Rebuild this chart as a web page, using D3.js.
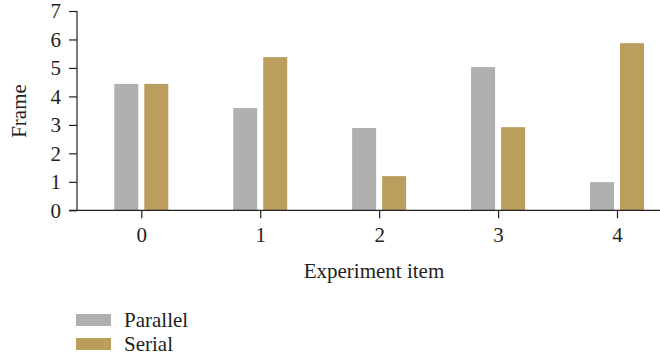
<!DOCTYPE html>
<html><head><meta charset="utf-8">
<script src="https://cdn.jsdelivr.net/npm/d3@7/dist/d3.min.js"></script>
<style>body{margin:0;background:#fff}svg text{font-family:"Liberation Serif","DejaVu Serif",serif;fill:#231f20}</style>
</head><body><svg id="c" width="660" height="357"></svg>
<script>
const categories = [0, 1, 2, 3, 4];
const seriesNames = ["Parallel", "Serial"];
const parallel = [4.44, 3.59, 2.89, 5.03, 0.99];
const serial = [4.44, 5.38, 1.20, 2.92, 5.87];
const yTicks = [0, 1, 2, 3, 4, 5, 6, 7];
const colors = ["#b0b0b0", "#bb9e5e"];

const svg = d3.select("#c");
const x = d3.scaleLinear().domain([0, 4]).range([141.3, 617]);
const y = d3.scaleLinear().domain([0, 7]).range([210.3, 11]);
const barW = 24, gap = 6;
const axisColor = "#231f20";
const fs = "21px";

// bars
const series = [parallel, serial];
series.forEach((vals, s) => {
  svg.append("g").selectAll("rect").data(vals).join("rect")
    .attr("x", (d, i) => s === 0 ? x(categories[i]) - gap/2 - barW : x(categories[i]) + gap/2)
    .attr("y", d => y(d))
    .attr("width", barW)
    .attr("height", d => y(0) - y(d))
    .attr("fill", colors[s]);
});

// y axis
const ya = svg.append("g").attr("transform", "translate(77,0)")
  .call(d3.axisLeft(y).tickValues(yTicks).tickFormat(d3.format("d")).tickSize(8).tickSizeOuter(0).tickPadding(8));
ya.selectAll("path,line").attr("stroke", axisColor).attr("stroke-width", 1.2);
ya.selectAll("text").style("font-size", fs).attr("fill", axisColor);
ya.select(".domain").remove();
svg.append("line").attr("x1", 77).attr("x2", 77).attr("y1", y(7)).attr("y2", y(0))
  .attr("stroke", axisColor).attr("stroke-width", 1.2);

// x axis
const xa = svg.append("g").attr("transform", `translate(0,${y(0)})`)
  .call(d3.axisBottom(x).tickValues(categories).tickFormat(d3.format("d")).tickSize(8).tickSizeOuter(0).tickPadding(9));
xa.select(".domain").remove();
xa.selectAll("line").attr("stroke", axisColor).attr("stroke-width", 1.2);
xa.selectAll("text").style("font-size", fs).attr("fill", axisColor);
svg.append("line").attr("x1", 69).attr("x2", 660).attr("y1", y(0)).attr("y2", y(0))
  .attr("stroke", axisColor).attr("stroke-width", 1.2);

// axis titles
svg.append("text").attr("x", 374).attr("y", 278).attr("text-anchor", "middle")
  .style("font-size", fs).text("Experiment item");
svg.append("text").attr("transform", "translate(26,111) rotate(-90)").attr("text-anchor", "middle")
  .style("font-size", fs).text("Frame");

// legend
const lg = svg.append("g").selectAll("g").data(seriesNames).join("g")
  .attr("transform", (d, i) => `translate(76,${314 + i * 24})`);
lg.append("rect").attr("width", 35).attr("height", 12).attr("fill", (d, i) => colors[i]);
lg.append("text").attr("x", 48).attr("y", 13).style("font-size", fs).text(d => d);
</script></body></html>
